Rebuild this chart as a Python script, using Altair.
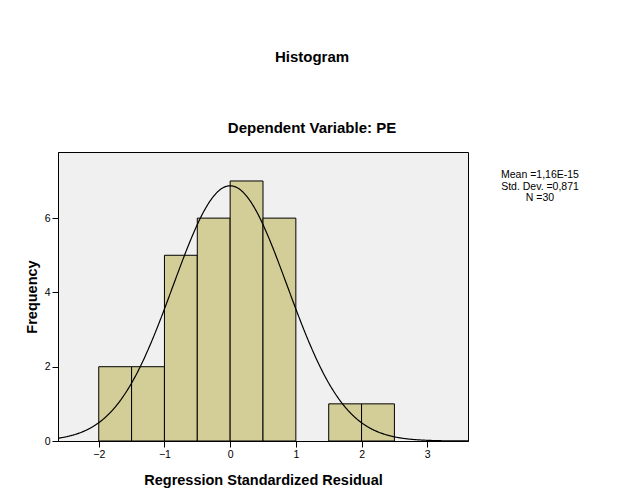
import altair as alt
import pandas as pd

# ---- data ----
bin_start = [-2.0, -1.5, -1.0, -0.5, 0.0, 0.5, 1.0, 1.5, 2.0]
counts = [2, 2, 5, 6, 7, 6, 0, 1, 1]
bin_width = 0.5
n_obs = 30
mean_val = 1.16e-15
sd_val = 0.871
x_ticks = [-2, -1, 0, 1, 2, 3]
y_ticks = [0, 2, 4, 6]
x_domain = [-2.62, 3.62]
y_domain = [0, 7.78]
stats_lines = ["Mean =1,16E-15", "Std. Dev. =0,871", "N =30"]

FONT = "Liberation Sans"

df = pd.DataFrame({
    "start": bin_start,
    "end": [b + bin_width for b in bin_start],
    "count": counts,
})
df = df[df["count"] > 0]

xs = alt.Scale(domain=x_domain, nice=False, zero=False)
ys = alt.Scale(domain=y_domain, nice=False, zero=False)

bars = alt.Chart(df).mark_rect(
    fill="#D3CE97", stroke="black", strokeWidth=1
).encode(
    x=alt.X("start:Q", scale=xs,
            axis=alt.Axis(values=x_ticks, title="Regression Standardized Residual",
                          format="d", tickSize=6, labelPadding=2, titlePadding=14,
                          grid=False)),
    x2="end:Q",
    y=alt.Y("count:Q", scale=ys,
            axis=alt.Axis(values=y_ticks, title="Frequency", format="d",
                          tickSize=6, labelPadding=2, titlePadding=5, grid=False)),
    y2=alt.datum(0),
)

curve_expr = (
    f"{n_obs * bin_width}/({sd_val}*sqrt(2*PI))"
    f"*exp(-0.5*pow((datum.x-({mean_val}))/{sd_val},2))"
)
curve = alt.Chart(alt.sequence(x_domain[0], x_domain[1] + 0.005, 0.01, as_="x")).transform_calculate(
    y=curve_expr
).mark_line(color="black", strokeWidth=1.2, clip=True).encode(
    x=alt.X("x:Q", scale=xs),
    y=alt.Y("y:Q", scale=ys),
)

stats = alt.Chart(pd.DataFrame({"k": [0]})).mark_text(
    text=stats_lines, font=FONT, fontSize=10.5, lineHeight=11.5,
    align="center", baseline="top", color="black",
).encode(x=alt.value(482), y=alt.value(18))

chart = alt.layer(bars, curve, stats).properties(
    width=410,
    height=289,
    background="white",
    title=alt.TitleParams(
        text="Histogram",
        subtitle="Dependent Variable: PE",
        anchor="middle",
        dx=49,
        offset=16,
        subtitlePadding=56,
    ),
    autosize=alt.AutoSizeParams(type="none"),
    padding={"left": 50, "top": 144, "right": 151, "bottom": 53},
).configure_view(
    fill="#F0F0F0", stroke="black", strokeWidth=1
).configure_axis(
    grid=False,
    domainColor="black",
    tickColor="black",
    labelColor="black",
    titleColor="black",
    labelFont=FONT,
    titleFont=FONT,
    labelFontSize=10.5,
    titleFontSize=14.5,
    titleFontWeight="bold",
).configure_title(
    font=FONT,
    fontSize=15,
    fontWeight="bold",
    color="black",
    subtitleFont=FONT,
    subtitleFontSize=15,
    subtitleFontWeight="bold",
    subtitleColor="black",
)

chart.save("out.html", embed_options={"renderer": "svg", "actions": False})
